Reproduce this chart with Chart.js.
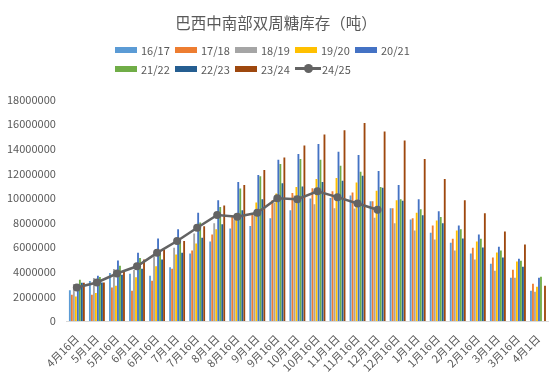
<!DOCTYPE html>
<html>
<head>
<meta charset="utf-8">
<script src="https://cdn.jsdelivr.net/npm/chart.js@4"></script>
<style>
  html, body { margin: 0; padding: 0; background: #fff; }
  #wrap { position: relative; width: 554px; height: 390px; }
  #legend {
    position: absolute; left: 115px; top: 41px;
    display: grid; grid-template-columns: repeat(5, 60px); row-gap: 2px;
    font-family: 'Noto Sans CJK SC', 'Noto Sans', sans-serif; font-size: 11px; color: #595959;
  }
  .item { display: flex; align-items: center; height: 17px; white-space: nowrap; }
  .box { width: 22px; height: 6px; margin-right: 4px; }
  .lineMark { position: relative; width: 26px; height: 3px; margin-right: 1px; background: #636363; }
  .lineMark::after {
    content: ""; position: absolute; left: 9px; top: -3px;
    width: 9px; height: 9px; border-radius: 50%; background: #636363;
  }
</style>
</head>
<body>
<div id="wrap">
  <canvas id="sugarChart" width="554" height="390"></canvas>
  <div id="legend"></div>
</div>
<script>
const labels = ["4月16日", "5月1日", "5月16日", "6月1日", "6月16日", "7月1日", "7月16日", "8月1日",
  "8月16日", "9月1日", "9月16日", "10月1日", "10月16日", "11月1日", "11月16日", "12月1日",
  "12月16日", "1月1日", "1月16日", "2月1日", "2月16日", "3月1日", "3月16日", "4月1日"];

// stocks in tonnes
const s1617 = [2500000, 3250000, 3900000, 3850000, 3680000, 4360000, 5480000, 6460000, 7530000, 7720000, 8350000, 9000000,
  9950000, 10000000, 10200000, 9740000, 9170000, 8260000, 7170000, 6360000, 5480000, 4660000, 3520000, 2450000];
const s1718 = [2130000, 2130000, 2720000, 2450000, 3280000, 4250000, 5730000, 7040000, 8450000, 8670000, 9820000, 10400000,
  10800000, 10550000, 10450000, 9740000, 9170000, 8350000, 7770000, 6690000, 5950000, 5160000, 4170000, 3030000];
const s1819 = [3000000, 3500000, 4230000, 4170000, 5260000, 5950000, 7120000, 7940000, 8260000, 8800000, 9630000, 10200000,
  9500000, 9170000, 9140000, 8400000, 7940000, 7360000, 6630000, 5730000, 5000000, 4090000, 3520000, 2370000];
const s1920 = [2000000, 2280000, 2860000, 3550000, 4450000, 5400000, 6300000, 7450000, 8260000, 9630000, 10370000, 10900000,
  11540000, 11620000, 11270000, 10580000, 9820000, 8800000, 8180000, 7360000, 6460000, 5560000, 4830000, 2780000];
const s2021 = [2900000, 3680000, 4910000, 5540000, 6700000, 7450000, 8800000, 9820000, 11300000, 11870000, 13100000, 13580000,
  14400000, 13770000, 13500000, 12200000, 11050000, 9900000, 8920000, 7770000, 7040000, 6030000, 5070000, 3520000];
const s2122 = [3350000, 3570000, 4500000, 5130000, 5700000, 6500000, 8000000, 9270000, 10770000, 11760000, 12770000, 13170000,
  13100000, 12630000, 12140000, 10900000, 9900000, 9080000, 8450000, 7450000, 6690000, 5730000, 4900000, 3600000];
const s2223 = [3100000, 3130000, 3760000, 4250000, 5000000, 5540000, 6770000, 7860000, 9000000, 9900000, 11200000, 10940000,
  11300000, 11400000, 11800000, 10830000, 9770000, 8600000, 7940000, 6710000, 5970000, 5160000, 4420000, null];
const s2324 = [3100000, 3130000, 4000000, 5000000, 5800000, 6500000, 7700000, 9400000, 11050000, 12270000, 13300000, 14260000,
  15170000, 15500000, 16100000, 15400000, 14670000, 13170000, 11540000, 9820000, 8760000, 7280000, 6220000, 2860000];
const s2425 = [2720000, 3130000, 3860000, 4450000, 5540000, 6500000, 7580000, 8620000, 8480000, 8800000, 9980000, 9900000,
  10550000, 10070000, 9550000, 9050000];

const seasons = ["16/17", "17/18", "18/19", "19/20", "20/21", "21/22", "22/23", "23/24"];
const barColors = ["#5B9BD5", "#ED7D31", "#A5A5A5", "#FFC000", "#4472C4", "#70AD47", "#255E91", "#9E480E"];
const barSeries = [s1617, s1718, s1819, s1920, s2021, s2122, s2223, s2324];
const lineColor = "#636363";

const font = "'Noto Sans CJK SC', 'Noto Sans', sans-serif";
const grey = "#595959";

const datasets = barSeries.map((data, i) => ({
  type: "bar",
  label: seasons[i],
  data,
  backgroundColor: barColors[i],
  borderWidth: 0,
  categoryPercentage: 0.8,
  barPercentage: 0.92,
  order: 1
}));

datasets.push({
  type: "line",
  label: "24/25",
  data: s2425,
  borderColor: lineColor,
  backgroundColor: lineColor,
  borderWidth: 2.5,
  pointRadius: 4,
  pointBackgroundColor: lineColor,
  pointBorderWidth: 0,
  tension: 0,
  order: 0
});

// legend in html, same 5 + 4 grid as the original
const legendEl = document.getElementById("legend");
datasets.forEach(ds => {
  const item = document.createElement("div");
  item.className = "item";
  const mark = document.createElement("span");
  if (ds.type === "line") {
    mark.className = "lineMark";
  } else {
    mark.className = "box";
    mark.style.background = ds.backgroundColor;
  }
  const txt = document.createElement("span");
  txt.textContent = ds.label;
  item.appendChild(mark);
  item.appendChild(txt);
  legendEl.appendChild(item);
});

new Chart(document.getElementById("sugarChart"), {
  data: { labels, datasets },
  options: {
    responsive: false,
    animation: false,
    layout: { padding: { left: 4, right: 6, top: 0, bottom: 0 } },
    plugins: {
      title: {
        display: true,
        text: "巴西中南部双周糖库存（吨）",
        color: grey,
        font: { family: font, size: 15.5, weight: "normal" },
        padding: { top: 14, bottom: 67 }
      },
      legend: { display: false },
      tooltip: { enabled: false }
    },
    scales: {
      x: {
        grid: { display: false },
        border: { color: "#D9D9D9" },
        ticks: {
          color: grey,
          font: { family: font, size: 11 },
          minRotation: 45,
          maxRotation: 45,
          autoSkip: false
        },
        afterFit: scale => { scale.height = 69; }
      },
      y: {
        min: 0,
        max: 18000000,
        grid: { display: false },
        border: { display: false },
        ticks: {
          stepSize: 2000000,
          color: grey,
          font: { family: font, size: 11 },
          callback: v => String(v)
        }
      }
    }
  }
});
</script>
</body>
</html>
